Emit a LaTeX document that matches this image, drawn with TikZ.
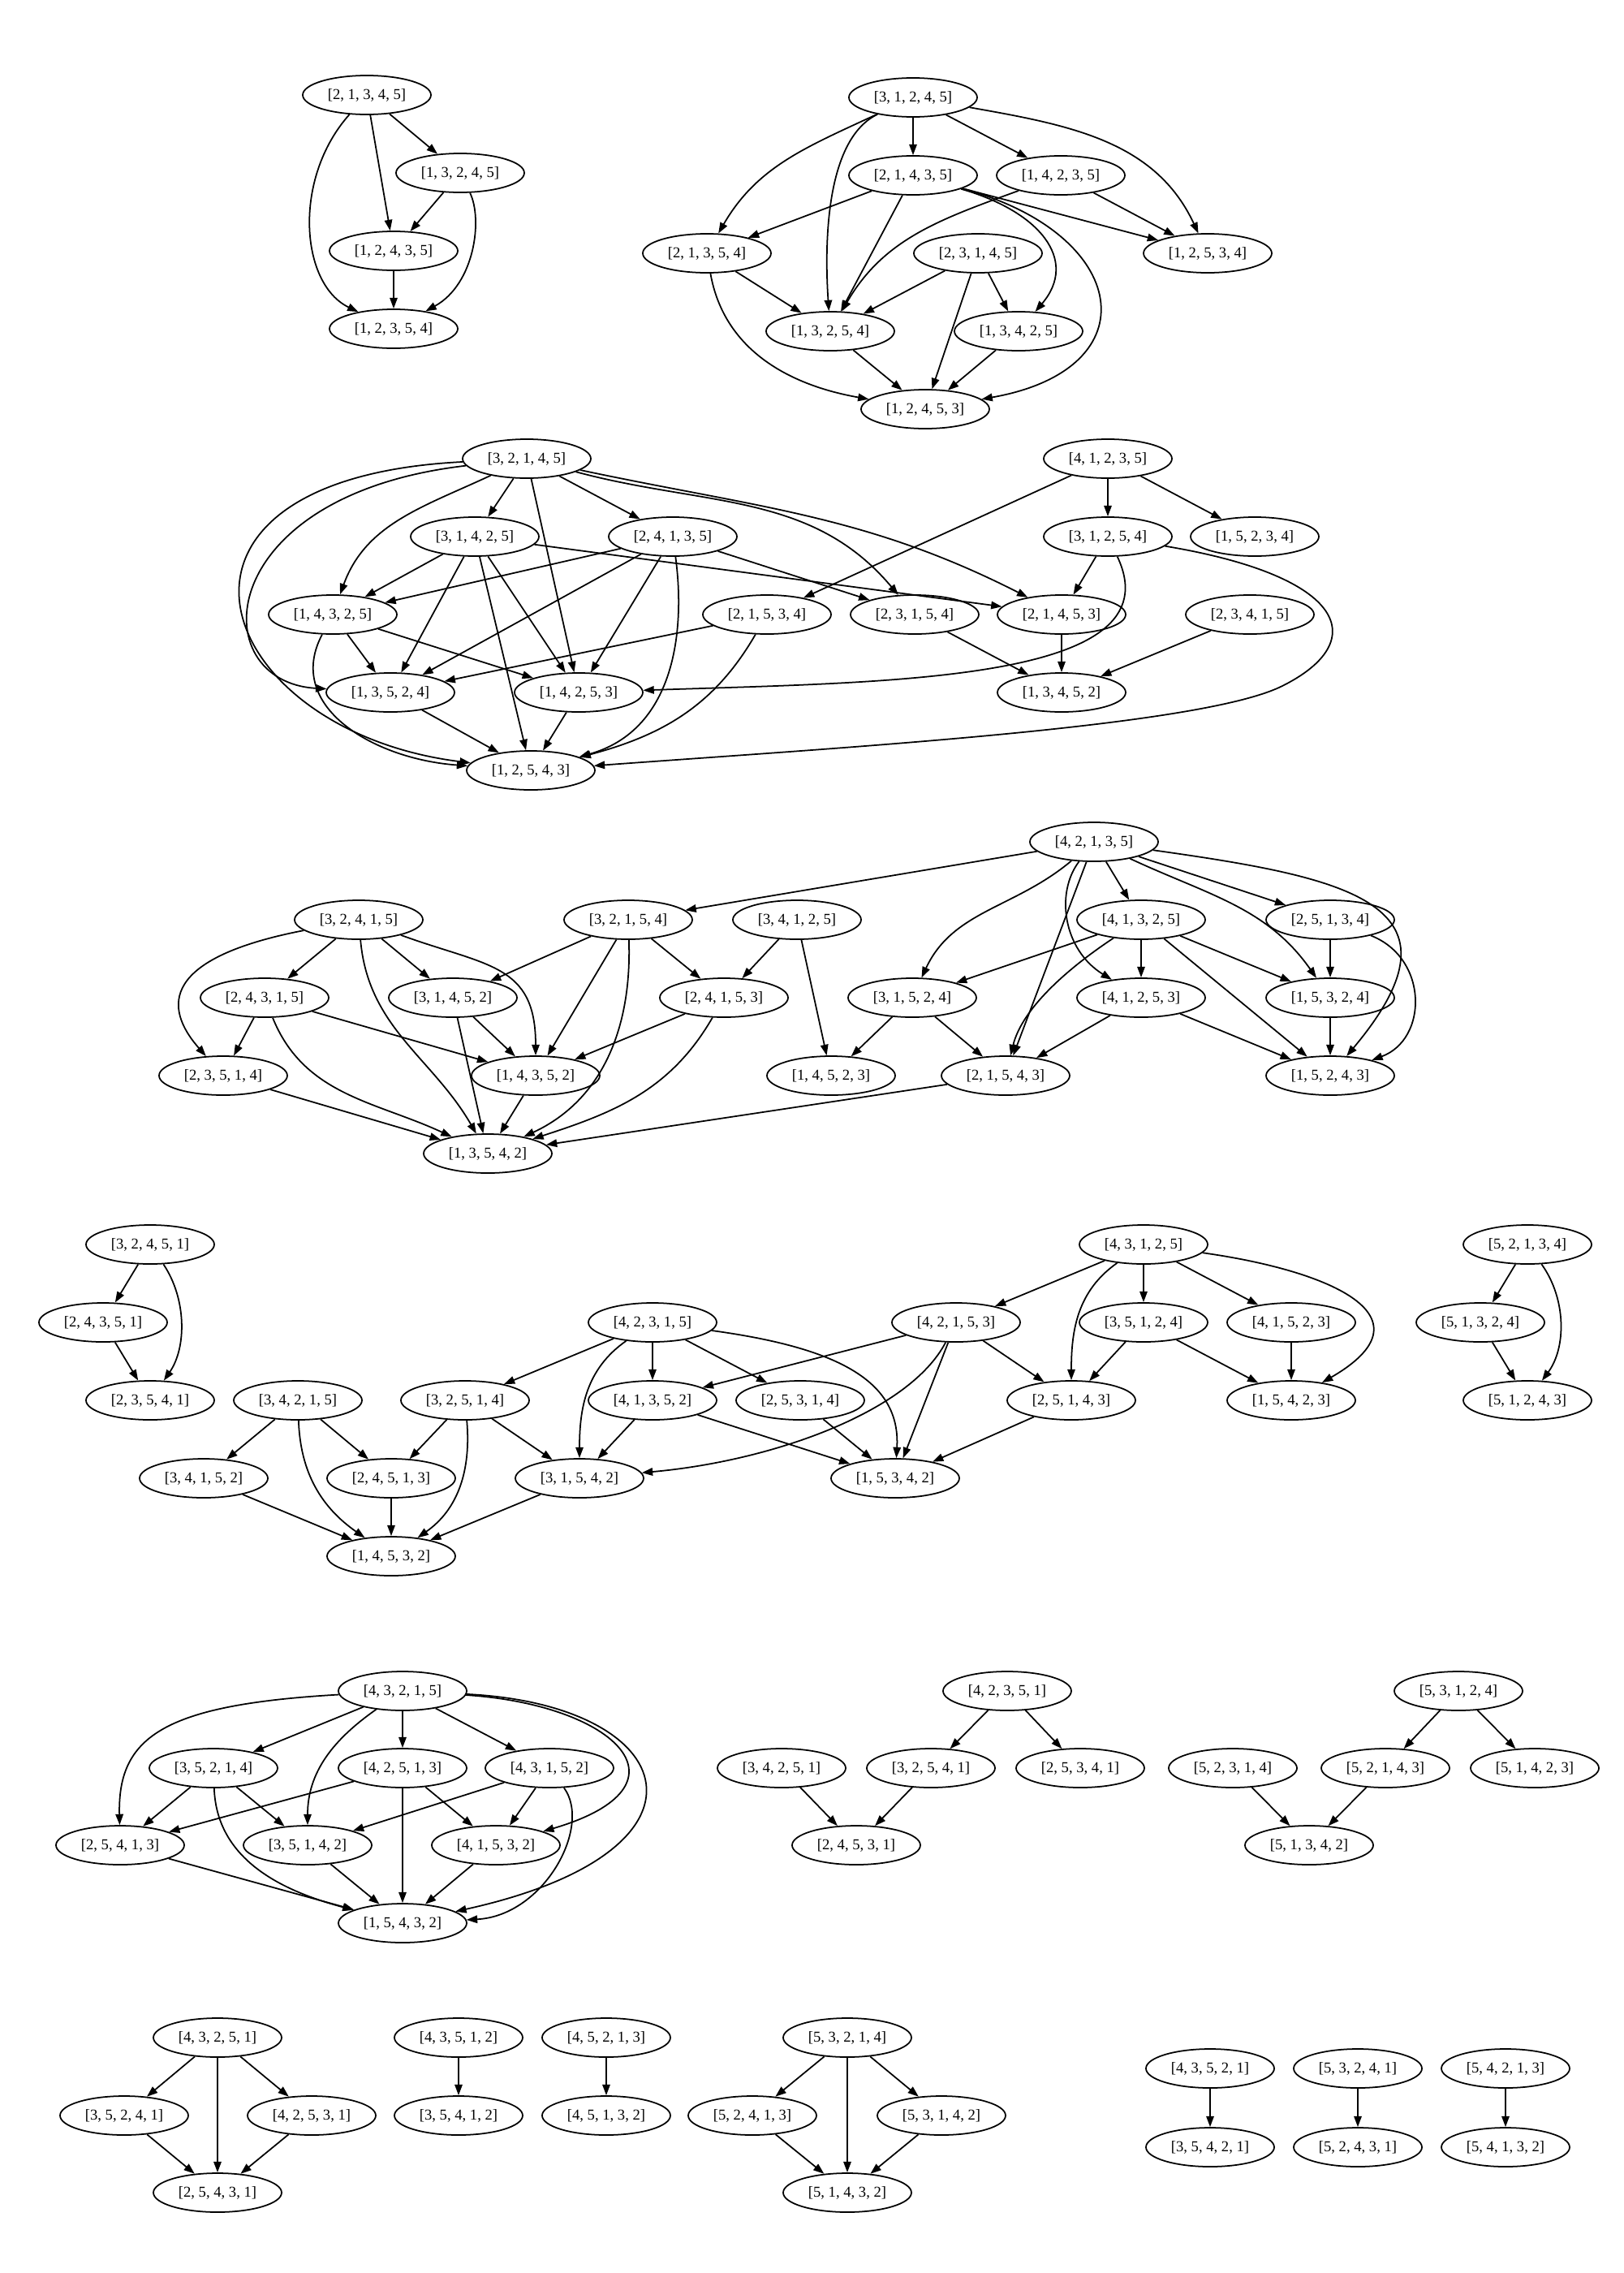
\documentclass[tikz,border=0pt]{standalone}
\usepackage{fontspec}
\newfontfamily\permfont{Liberation Serif}
\usetikzlibrary{shapes.geometric,arrows.meta}
\tikzset{
  perm/.style={draw, ellipse, line width=0.5pt, minimum width=1.58cm, minimum height=0.48cm, inner sep=0pt, font=\permfont\fontsize{5.3}{6.3}\selectfont},
  arr/.style={line width=0.5pt, -{Triangle[length=3.8pt,width=2.7pt]}}
}
\begin{document}
\begin{tikzpicture}
\useasboundingbox (0,0) rectangle (20,-28);

% first row
\node[perm] (a1) at (4.52,-1.17) {[2, 1, 3, 4, 5]};
\node[perm] (a2) at (5.67,-2.13) {[1, 3, 2, 4, 5]};
\node[perm] (a3) at (4.85,-3.09) {[1, 2, 4, 3, 5]};
\node[perm] (a4) at (4.85,-4.05) {[1, 2, 3, 5, 4]};
\draw[arr] (a1) -- (a2);
\draw[arr] (a1) -- (a3);
\draw[arr] (a1) .. controls (3.6,-2.2) and (3.7,-3.5) .. (a4);
\draw[arr] (a2) -- (a3);
\draw[arr] (a2) .. controls (5.95,-2.7) and (5.85,-3.5) .. (a4);
\draw[arr] (a3) -- (a4);

\node[perm] (b1) at (11.25,-1.20) {[3, 1, 2, 4, 5]};
\node[perm] (b2) at (11.25,-2.16) {[2, 1, 4, 3, 5]};
\node[perm] (b3) at (13.07,-2.16) {[1, 4, 2, 3, 5]};
\node[perm] (b4) at (8.71,-3.12) {[2, 1, 3, 5, 4]};
\node[perm] (b5) at (12.05,-3.12) {[2, 3, 1, 4, 5]};
\node[perm] (b6) at (14.88,-3.12) {[1, 2, 5, 3, 4]};
\node[perm] (b7) at (10.23,-4.08) {[1, 3, 2, 5, 4]};
\node[perm] (b8) at (12.55,-4.08) {[1, 3, 4, 2, 5]};
\node[perm] (b9) at (11.40,-5.04) {[1, 2, 4, 5, 3]};
\draw[arr] (b1) to[out=205,in=60] (b4);
\draw[arr] (b1) .. controls (10.2,-1.7) and (10.15,-2.9) .. (b7);
\draw[arr] (b1) -- (b2);
\draw[arr] (b1) -- (b3);
\draw[arr] (b1) to[out=-10,in=115] (b6);
\draw[arr] (b2) -- (b4);
\draw[arr] (b2) -- (b7);
\draw[arr] (b2) -- (b6);
\draw[arr] (b2) .. controls (12.8,-2.6) and (13.3,-3.2) .. (b8);
\draw[arr] (b2) to[out=-15,in=10,looseness=2.1] (b9);
\draw[arr] (b3) to[out=200,in=60] (b7);
\draw[arr] (b3) -- (b6);
\draw[arr] (b4) -- (b7);
\draw[arr] (b4) to[out=-80,in=170] (b9);
\draw[arr] (b5) -- (b7);
\draw[arr] (b5) -- (b8);
\draw[arr] (b5) -- (b9);
\draw[arr] (b7) -- (b9);
\draw[arr] (b8) -- (b9);

% second row
\node[perm] (c1) at (6.49,-5.65) {[3, 2, 1, 4, 5]};
\node[perm] (c2) at (5.85,-6.61) {[3, 1, 4, 2, 5]};
\node[perm] (c3) at (8.29,-6.61) {[2, 4, 1, 3, 5]};
\node[perm] (c4) at (4.10,-7.57) {[1, 4, 3, 2, 5]};
\node[perm] (c5) at (9.45,-7.57) {[2, 1, 5, 3, 4]};
\node[perm] (c6) at (4.81,-8.53) {[1, 3, 5, 2, 4]};
\node[perm] (c7) at (7.13,-8.53) {[1, 4, 2, 5, 3]};
\node[perm] (c8) at (6.54,-9.49) {[1, 2, 5, 4, 3]};
\node[perm] (c9) at (13.65,-5.65) {[4, 1, 2, 3, 5]};
\node[perm] (c10) at (13.65,-6.61) {[3, 1, 2, 5, 4]};
\node[perm] (c11) at (15.46,-6.61) {[1, 5, 2, 3, 4]};
\node[perm] (c12) at (11.27,-7.57) {[2, 3, 1, 5, 4]};
\node[perm] (c13) at (13.08,-7.57) {[2, 1, 4, 5, 3]};
\node[perm] (c14) at (15.40,-7.57) {[2, 3, 4, 1, 5]};
\node[perm] (c15) at (13.08,-8.53) {[1, 3, 4, 5, 2]};
\draw[arr] (c1) .. controls (1.5,-5.9) and (2.6,-9.0) .. (c8);
\draw[arr] (c1) .. controls (2.6,-6.1) and (2.5,-8.4) .. (c6);
\draw[arr] (c1) to[out=205,in=70] (c4);
\draw[arr] (c1) -- (c2);
\draw[arr] (c1) -- (c7);
\draw[arr] (c1) -- (c3);
\draw[arr] (c1) to[out=-15,in=130] (c12);
\draw[arr] (c1) to[out=-12,in=153] (c13);
\draw[arr] (c2) -- (c4);
\draw[arr] (c2) -- (c6);
\draw[arr] (c2) -- (c8);
\draw[arr] (c2) -- (c7);
\draw[arr] (c2) -- (c13);
\draw[arr] (c3) -- (c4);
\draw[arr] (c3) -- (c6);
\draw[arr] (c3) -- (c7);
\draw[arr] (c3) .. controls (8.45,-7.8) and (8.3,-9.0) .. (c8);
\draw[arr] (c3) -- (c12);
\draw[arr] (c4) -- (c6);
\draw[arr] (c4) -- (c7);
\draw[arr] (c4) .. controls (3.5,-8.7) and (4.6,-9.35) .. (c8);
\draw[arr] (c5) -- (c6);
\draw[arr] (c5) to[out=240,in=15] (c8);
\draw[arr] (c6) -- (c8);
\draw[arr] (c7) -- (c8);
\draw[arr] (c9) -- (c10);
\draw[arr] (c9) -- (c11);
\draw[arr] (c9) -- (c5);
\draw[arr] (c10) -- (c13);
\draw[arr] (c10) .. controls (14.5,-8.4) and (11.0,-8.4) .. (c7);
\draw[arr] (c10) .. controls (16.6,-7.1) and (16.9,-7.9) .. (15.8,-8.45)
  .. controls (14.8,-8.95) and (10.5,-9.2) .. (c8);
\draw[arr] (c12) -- (c15);
\draw[arr] (c13) -- (c15);
\draw[arr] (c14) -- (c15);

% third row
\node[perm] (d1) at (4.42,-11.33) {[3, 2, 4, 1, 5]};
\node[perm] (d2) at (3.26,-12.29) {[2, 4, 3, 1, 5]};
\node[perm] (d3) at (5.58,-12.29) {[3, 1, 4, 5, 2]};
\node[perm] (d4) at (2.75,-13.25) {[2, 3, 5, 1, 4]};
\node[perm] (d5) at (6.60,-13.25) {[1, 4, 3, 5, 2]};
\node[perm] (d6) at (6.01,-14.21) {[1, 3, 5, 4, 2]};
\node[perm] (d7) at (7.74,-11.33) {[3, 2, 1, 5, 4]};
\node[perm] (d8) at (8.92,-12.29) {[2, 4, 1, 5, 3]};
\node[perm] (d9) at (9.82,-11.33) {[3, 4, 1, 2, 5]};
\node[perm] (d10) at (13.48,-10.37) {[4, 2, 1, 3, 5]};
\node[perm] (d11) at (14.06,-11.33) {[4, 1, 3, 2, 5]};
\node[perm] (d12) at (16.39,-11.33) {[2, 5, 1, 3, 4]};
\node[perm] (d13) at (11.24,-12.29) {[3, 1, 5, 2, 4]};
\node[perm] (d14) at (14.06,-12.29) {[4, 1, 2, 5, 3]};
\node[perm] (d15) at (16.39,-12.29) {[1, 5, 3, 2, 4]};
\node[perm] (d16) at (10.24,-13.25) {[1, 4, 5, 2, 3]};
\node[perm] (d17) at (12.39,-13.25) {[2, 1, 5, 4, 3]};
\node[perm] (d18) at (16.39,-13.25) {[1, 5, 2, 4, 3]};
\draw[arr] (d1) .. controls (2.0,-11.8) and (2.0,-12.4) .. (d4);
\draw[arr] (d1) -- (d2);
\draw[arr] (d1) to[out=-85,in=120] (d6);
\draw[arr] (d1) -- (d3);
\draw[arr] (d1) to[out=-20,in=90,looseness=1.3] (d5);
\draw[arr] (d2) -- (d4);
\draw[arr] (d2) to[out=-68,in=155] (d6);
\draw[arr] (d2) -- (d5);
\draw[arr] (d3) -- (d6);
\draw[arr] (d3) -- (d5);
\draw[arr] (d4) -- (d6);
\draw[arr] (d5) -- (d6);
\draw[arr] (d7) -- (d3);
\draw[arr] (d7) -- (d5);
\draw[arr] (d7) to[out=-88,in=25] (d6);
\draw[arr] (d7) -- (d8);
\draw[arr] (d8) -- (d5);
\draw[arr] (d8) to[out=240,in=18] (d6);
\draw[arr] (d9) -- (d8);
\draw[arr] (d9) -- (d16);
\draw[arr] (d10) -- (d7);
\draw[arr] (d10) to[out=220,in=65] (d13);
\draw[arr] (d10) -- (d17);
\draw[arr] (d10) .. controls (13.0,-11.0) and (13.1,-11.7) .. (d14);
\draw[arr] (d10) -- (d11);
\draw[arr] (d10) to[out=-25,in=125] (d15);
\draw[arr] (d10) -- (d12);
\draw[arr] (d10) to[out=-8,in=50,looseness=1.8] (d18);
\draw[arr] (d11) -- (d13);
\draw[arr] (d11) .. controls (13.2,-11.9) and (12.6,-12.4) .. (d17);
\draw[arr] (d11) -- (d14);
\draw[arr] (d11) -- (d15);
\draw[arr] (d11) -- (d18);
\draw[arr] (d12) -- (d15);
\draw[arr] (d12) .. controls (17.6,-11.8) and (17.6,-12.8) .. (d18);
\draw[arr] (d13) -- (d16);
\draw[arr] (d13) -- (d17);
\draw[arr] (d14) -- (d17);
\draw[arr] (d14) -- (d18);
\draw[arr] (d15) -- (d18);
\draw[arr] (d17) -- (d6);

% fourth row
\node[perm] (e1) at (1.85,-15.33) {[3, 2, 4, 5, 1]};
\node[perm] (e2) at (1.27,-16.29) {[2, 4, 3, 5, 1]};
\node[perm] (e3) at (1.85,-17.25) {[2, 3, 5, 4, 1]};
\node[perm] (e4) at (3.67,-17.25) {[3, 4, 2, 1, 5]};
\node[perm] (e5) at (5.73,-17.25) {[3, 2, 5, 1, 4]};
\node[perm] (e6) at (8.04,-16.29) {[4, 2, 3, 1, 5]};
\node[perm] (e7) at (8.04,-17.25) {[4, 1, 3, 5, 2]};
\node[perm] (e8) at (9.86,-17.25) {[2, 5, 3, 1, 4]};
\node[perm] (e9) at (2.51,-18.21) {[3, 4, 1, 5, 2]};
\node[perm] (e10) at (4.82,-18.21) {[2, 4, 5, 1, 3]};
\node[perm] (e11) at (7.14,-18.21) {[3, 1, 5, 4, 2]};
\node[perm] (e12) at (4.82,-19.17) {[1, 4, 5, 3, 2]};
\node[perm] (e13) at (14.09,-15.33) {[4, 3, 1, 2, 5]};
\node[perm] (e14) at (11.78,-16.29) {[4, 2, 1, 5, 3]};
\node[perm] (e15) at (14.09,-16.29) {[3, 5, 1, 2, 4]};
\node[perm] (e16) at (15.91,-16.29) {[4, 1, 5, 2, 3]};
\node[perm] (e17) at (13.20,-17.25) {[2, 5, 1, 4, 3]};
\node[perm] (e18) at (15.91,-17.25) {[1, 5, 4, 2, 3]};
\node[perm] (e19) at (11.03,-18.21) {[1, 5, 3, 4, 2]};
\node[perm] (f1) at (18.82,-15.33) {[5, 2, 1, 3, 4]};
\node[perm] (f2) at (18.24,-16.29) {[5, 1, 3, 2, 4]};
\node[perm] (f3) at (18.82,-17.25) {[5, 1, 2, 4, 3]};
\draw[arr] (e1) -- (e2);
\draw[arr] (e1) .. controls (2.3,-16.0) and (2.3,-16.6) .. (e3);
\draw[arr] (e2) -- (e3);
\draw[arr] (e4) -- (e9);
\draw[arr] (e4) to[out=-88,in=145] (e12);
\draw[arr] (e4) -- (e10);
\draw[arr] (e5) -- (e10);
\draw[arr] (e5) to[out=-85,in=35] (e12);
\draw[arr] (e5) -- (e11);
\draw[arr] (e6) -- (e5);
\draw[arr] (e6) to[out=215,in=90] (e11);
\draw[arr] (e6) -- (e7);
\draw[arr] (e6) -- (e8);
\draw[arr] (e6) .. controls (10.3,-16.6) and (11.1,-17.0) .. (e19);
\draw[arr] (e7) -- (e11);
\draw[arr] (e7) -- (e19);
\draw[arr] (e8) -- (e19);
\draw[arr] (e9) -- (e12);
\draw[arr] (e10) -- (e12);
\draw[arr] (e11) -- (e12);
\draw[arr] (e13) -- (e14);
\draw[arr] (e13) to[out=215,in=90] (e17);
\draw[arr] (e13) -- (e15);
\draw[arr] (e13) -- (e16);
\draw[arr] (e13) to[out=-8,in=30,looseness=1.9] (e18);
\draw[arr] (e14) -- (e7);
\draw[arr] (e14) .. controls (11.2,-17.4) and (9.5,-18.0) .. (e11);
\draw[arr] (e14) -- (e19);
\draw[arr] (e14) -- (e17);
\draw[arr] (e15) -- (e17);
\draw[arr] (e15) -- (e18);
\draw[arr] (e16) -- (e18);
\draw[arr] (e17) -- (e19);
\draw[arr] (f1) -- (f2);
\draw[arr] (f1) .. controls (19.3,-16.0) and (19.3,-16.6) .. (f3);
\draw[arr] (f2) -- (f3);

% fifth row
\node[perm] (g1) at (4.96,-20.83) {[4, 3, 2, 1, 5]};
\node[perm] (g2) at (2.63,-21.78) {[3, 5, 2, 1, 4]};
\node[perm] (g3) at (4.96,-21.78) {[4, 2, 5, 1, 3]};
\node[perm] (g4) at (6.77,-21.78) {[4, 3, 1, 5, 2]};
\node[perm] (g5) at (1.48,-22.73) {[2, 5, 4, 1, 3]};
\node[perm] (g6) at (3.79,-22.73) {[3, 5, 1, 4, 2]};
\node[perm] (g7) at (6.11,-22.73) {[4, 1, 5, 3, 2]};
\node[perm] (g8) at (4.96,-23.69) {[1, 5, 4, 3, 2]};
\draw[arr] (g1) .. controls (2.0,-21.0) and (1.45,-21.4) .. (g5);
\draw[arr] (g1) -- (g2);
\draw[arr] (g1) to[out=215,in=90] (g6);
\draw[arr] (g1) -- (g3);
\draw[arr] (g1) -- (g4);
\draw[arr] (g1) .. controls (7.6,-21.0) and (8.6,-22.0) .. (g7);
\draw[arr] (g1) .. controls (8.4,-21.0) and (9.0,-22.8) .. (g8);
\draw[arr] (g2) -- (g5);
\draw[arr] (g2) to[out=-88,in=165] (g8);
\draw[arr] (g2) -- (g6);
\draw[arr] (g3) -- (g5);
\draw[arr] (g3) -- (g8);
\draw[arr] (g3) -- (g7);
\draw[arr] (g4) -- (g6);
\draw[arr] (g4) -- (g7);
\draw[arr] (g4) .. controls (7.3,-22.5) and (6.7,-23.6) .. (g8);
\draw[arr] (g5) -- (g8);
\draw[arr] (g6) -- (g8);
\draw[arr] (g7) -- (g8);

\node[perm] (h1) at (12.41,-20.83) {[4, 2, 3, 5, 1]};
\node[perm] (h2) at (9.63,-21.78) {[3, 4, 2, 5, 1]};
\node[perm] (h3) at (11.47,-21.78) {[3, 2, 5, 4, 1]};
\node[perm] (h4) at (13.31,-21.78) {[2, 5, 3, 4, 1]};
\node[perm] (h5) at (10.55,-22.73) {[2, 4, 5, 3, 1]};
\draw[arr] (h1) -- (h3);
\draw[arr] (h1) -- (h4);
\draw[arr] (h2) -- (h5);
\draw[arr] (h3) -- (h5);

\node[perm] (i1) at (17.97,-20.83) {[5, 3, 1, 2, 4]};
\node[perm] (i2) at (15.19,-21.78) {[5, 2, 3, 1, 4]};
\node[perm] (i3) at (17.07,-21.78) {[5, 2, 1, 4, 3]};
\node[perm] (i4) at (18.91,-21.78) {[5, 1, 4, 2, 3]};
\node[perm] (i5) at (16.13,-22.73) {[5, 1, 3, 4, 2]};
\draw[arr] (i1) -- (i3);
\draw[arr] (i1) -- (i4);
\draw[arr] (i2) -- (i5);
\draw[arr] (i3) -- (i5);

% last row
\node[perm] (j1) at (2.68,-25.10) {[4, 3, 2, 5, 1]};
\node[perm] (j2) at (1.53,-26.06) {[3, 5, 2, 4, 1]};
\node[perm] (j3) at (3.84,-26.06) {[4, 2, 5, 3, 1]};
\node[perm] (j4) at (2.68,-27.01) {[2, 5, 4, 3, 1]};
\draw[arr] (j1) -- (j2);
\draw[arr] (j1) -- (j4);
\draw[arr] (j1) -- (j3);
\draw[arr] (j2) -- (j4);
\draw[arr] (j3) -- (j4);

\node[perm] (k1) at (5.65,-25.10) {[4, 3, 5, 1, 2]};
\node[perm] (k2) at (5.65,-26.06) {[3, 5, 4, 1, 2]};
\draw[arr] (k1) -- (k2);
\node[perm] (l1) at (7.47,-25.10) {[4, 5, 2, 1, 3]};
\node[perm] (l2) at (7.47,-26.06) {[4, 5, 1, 3, 2]};
\draw[arr] (l1) -- (l2);

\node[perm] (m1) at (10.44,-25.10) {[5, 3, 2, 1, 4]};
\node[perm] (m2) at (9.27,-26.06) {[5, 2, 4, 1, 3]};
\node[perm] (m3) at (11.60,-26.06) {[5, 3, 1, 4, 2]};
\node[perm] (m4) at (10.44,-27.01) {[5, 1, 4, 3, 2]};
\draw[arr] (m1) -- (m2);
\draw[arr] (m1) -- (m4);
\draw[arr] (m1) -- (m3);
\draw[arr] (m2) -- (m4);
\draw[arr] (m3) -- (m4);

\node[perm] (n1) at (14.91,-25.48) {[4, 3, 5, 2, 1]};
\node[perm] (n2) at (14.91,-26.45) {[3, 5, 4, 2, 1]};
\draw[arr] (n1) -- (n2);
\node[perm] (o1) at (16.73,-25.48) {[5, 3, 2, 4, 1]};
\node[perm] (o2) at (16.73,-26.45) {[5, 2, 4, 3, 1]};
\draw[arr] (o1) -- (o2);
\node[perm] (p1) at (18.55,-25.48) {[5, 4, 2, 1, 3]};
\node[perm] (p2) at (18.55,-26.45) {[5, 4, 1, 3, 2]};
\draw[arr] (p1) -- (p2);
\end{tikzpicture}
\end{document}
